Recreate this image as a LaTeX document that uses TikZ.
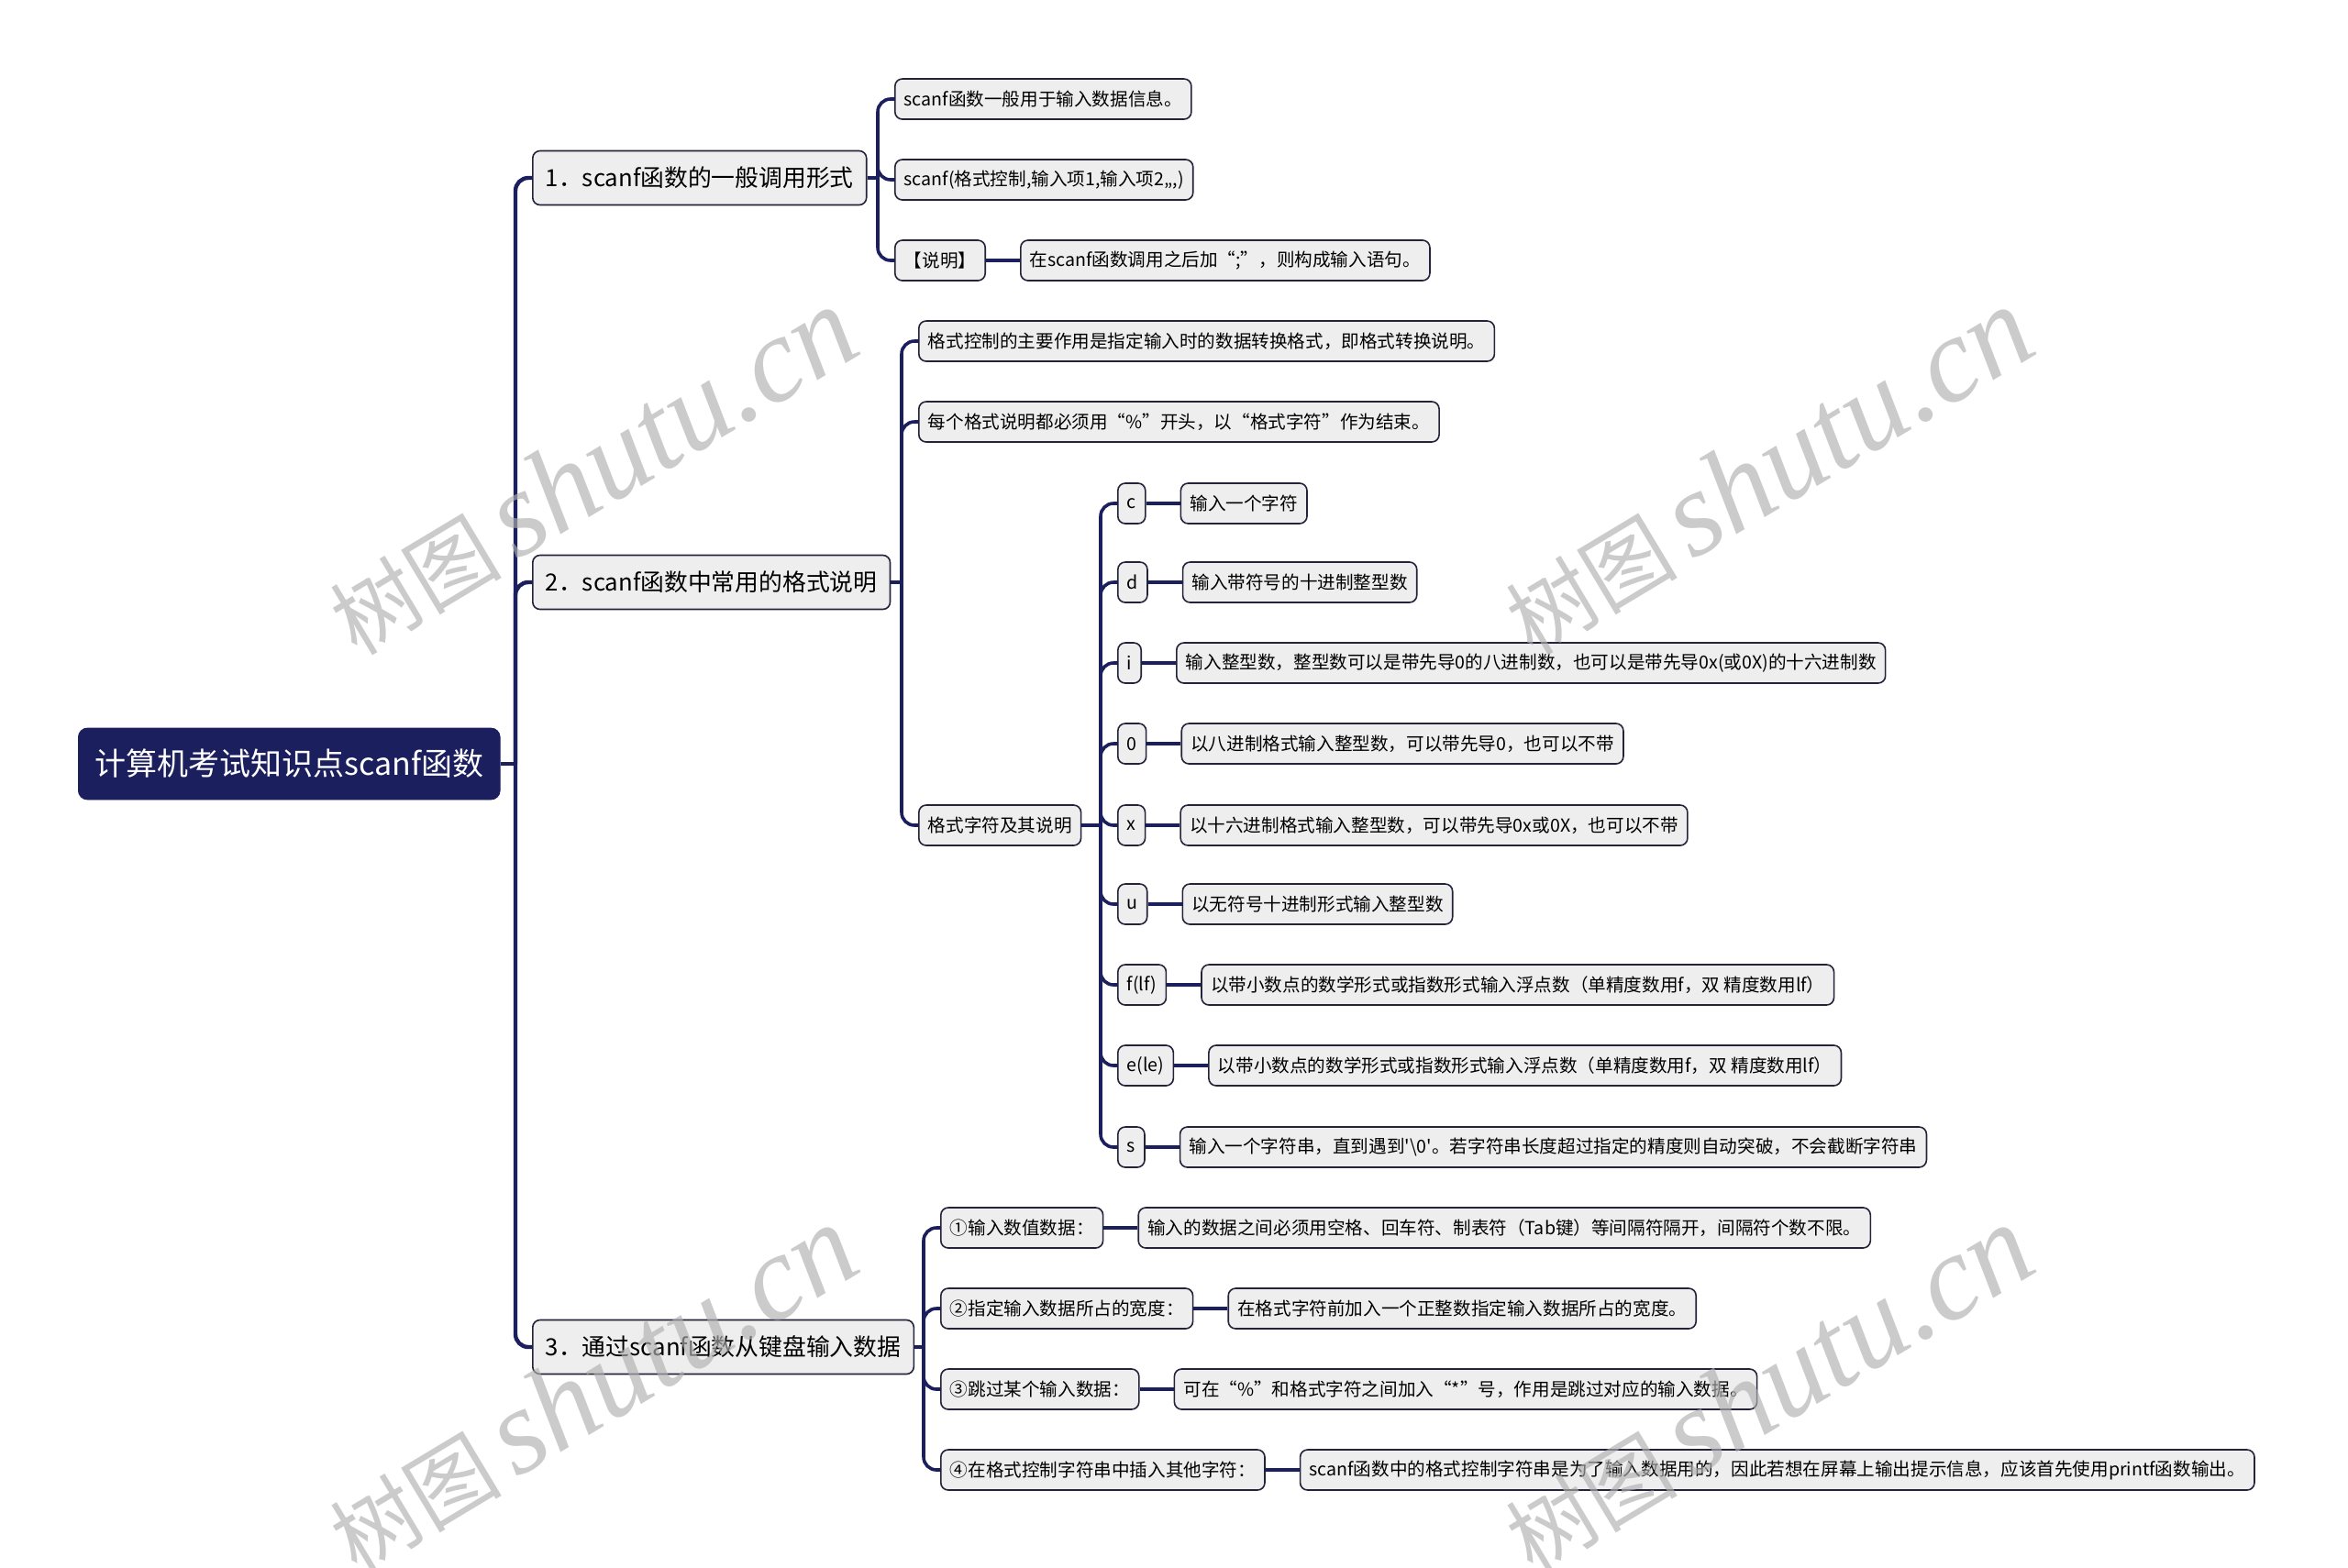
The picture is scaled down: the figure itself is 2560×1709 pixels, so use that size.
\documentclass[tikz,border=0pt]{standalone}
\usepackage{fontspec}
\setmainfont{Noto Sans CJK SC}
\newfontfamily\cjkplain{Noto Sans CJK SC}
\newfontfamily\wmserif{Liberation Serif}
\usetikzlibrary{positioning,calc}
\definecolor{navy}{HTML}{1B1F5E}
\definecolor{nodefill}{HTML}{EEEEEF}
\definecolor{nodeline}{HTML}{23233A}
\definecolor{wm}{HTML}{B0B0B0}
\begin{document}
\begin{tikzpicture}[x=0.5pt,y=-0.5pt,
  leaf/.style={draw=nodeline, line width=0.8pt, fill=nodefill, rounded corners=4pt,
    minimum height=22pt, inner xsep=5pt, inner ysep=0pt,
    font=\fontsize{9.8}{11}\selectfont, anchor=west},
  mid/.style={leaf, minimum height=29.5pt, inner xsep=7pt, font=\fontsize{12.9}{15}\selectfont},
  rootbox/.style={fill=navy, draw=navy, rounded corners=5pt, minimum height=39pt,
    inner xsep=9pt, inner ysep=0pt, text=white, font=\fontsize{17}{20}\selectfont, anchor=west},
  conn/.style={draw=navy, line width=1.8pt, rounded corners=7pt},
  trunk/.style={conn, line width=2.2pt},
  desc/.style={leaf, right=18.5pt of #1},
  wmark/.style={text=wm, opacity=0.65, rotate=31, inner sep=0pt}
]
\useasboundingbox (0,0) rectangle (2560,1709);
\fill[white] (0,0) rectangle (2560,1709);

% root and level 1
\node[rootbox] (root) at (85,833) {计算机考试知识点scanf函数};
\node[mid] (a1) at (580,194) {1．scanf函数的一般调用形式};
\node[mid] (a2) at (580,635) {2．scanf函数中常用的格式说明};
\node[mid] (a3) at (580,1469) {3．通过scanf函数从键盘输入数据};
\coordinate (jr) at (562,833);
\draw[trunk] (root.east) -- (jr);
\foreach \n in {a1,a2,a3} \draw[trunk] (jr) |- (\n.west);

% branch 1
\node[leaf] (b11) at (975,108) {scanf函数一般用于输入数据信息。};
\node[leaf] (b12) at (975,196) {scanf(格式控制,输入项1,输入项2,,,)};
\node[leaf] (b13) at (975,284) {【说明】};
\node[desc=b13] (b131) {在scanf函数调用之后加“;”，则构成输入语句。};
\coordinate (j1) at (957,194);
\draw[conn] (a1.east) -- (j1);
\foreach \n in {b11,b12,b13} \draw[conn] (j1) |- (\n.west);
\draw[conn] (b13.east) -- (b131.west);

% branch 2
\node[leaf] (b21) at (1001,372) {格式控制的主要作用是指定输入时的数据转换格式，即格式转换说明。};
\node[leaf] (b22) at (1001,460) {每个格式说明都必须用“\%”开头，以“格式字符”作为结束。};
\node[leaf] (b23) at (1001,900) {格式字符及其说明};
\coordinate (j2) at (983,635);
\draw[conn] (a2.east) -- (j2);
\foreach \n in {b21,b22,b23} \draw[conn] (j2) |- (\n.west);

% format characters
\node[leaf] (fc) at (1218,549) {c};
\node[leaf] (fd) at (1218,635) {d};
\node[leaf] (fi) at (1218,723) {i};
\node[leaf] (fo) at (1218,811) {0};
\node[leaf] (fx) at (1218,900) {x};
\node[leaf] (fu) at (1218,986) {u};
\node[leaf] (ff) at (1218,1074) {f(lf)};
\node[leaf] (fe) at (1218,1162) {e(le)};
\node[leaf] (fs) at (1218,1251) {s};
\node[desc=fc] (dc) {输入一个字符};
\node[desc=fd] (dd) {输入带符号的十进制整型数};
\node[desc=fi] (di) {输入整型数，整型数可以是带先导0的八进制数，也可以是带先导0x(或0X)的十六进制数};
\node[desc=fo] (do) {以八进制格式输入整型数，可以带先导0，也可以不带};
\node[desc=fx] (dx) {以十六进制格式输入整型数，可以带先导0x或0X，也可以不带};
\node[desc=fu] (du) {以无符号十进制形式输入整型数};
\node[desc=ff] (df) {以带小数点的数学形式或指数形式输入浮点数（单精度数用f，双 精度数用lf）};
\node[desc=fe] (de) {以带小数点的数学形式或指数形式输入浮点数（单精度数用f，双 精度数用lf）};
\node[desc=fs] (ds) {输入一个字符串，直到遇到{\cjkplain '\textbackslash 0'}。若字符串长度超过指定的精度则自动突破，不会截断字符串};
\coordinate (j3) at (1200,900);
\draw[conn] (b23.east) -- (j3);
\foreach \n/\m in {fc/dc,fd/dd,fi/di,fo/do,fx/dx,fu/du,ff/df,fe/de,fs/ds}{
  \draw[conn] (j3) |- (\n.west);
  \draw[conn] (\n.east) -- (\m.west);
}

% branch 3
\node[leaf] (b31) at (1025,1339) {①输入数值数据：};
\node[leaf] (b32) at (1025,1427) {②指定输入数据所占的宽度：};
\node[leaf] (b33) at (1025,1515) {③跳过某个输入数据：};
\node[leaf] (b34) at (1025,1603) {④在格式控制字符串中插入其他字符：};
\node[desc=b31] (c31) {输入的数据之间必须用空格、回车符、制表符（Tab键）等间隔符隔开，间隔符个数不限。};
\node[desc=b32] (c32) {在格式字符前加入一个正整数指定输入数据所占的宽度。};
\node[desc=b33] (c33) {可在“\%”和格式字符之间加入“*”号，作用是跳过对应的输入数据。};
\node[desc=b34] (c34) {scanf函数中的格式控制字符串是为了输入数据用的，因此若想在屏幕上输出提示信息，应该首先使用printf函数输出。};
\coordinate (j4) at (1007,1469);
\draw[conn] (a3.east) -- (j4);
\foreach \n/\m in {b31/c31,b32/c32,b33/c33,b34/c34}{
  \draw[conn] (j4) |- (\n.west);
  \draw[conn] (\n.east) -- (\m.west);
}

% watermarks
\foreach \p [count=\k] in {(645,514),(1927,514),(645,1515),(1927,1515)}
  \node[wmark] (wm\k) at \p {\fontsize{47}{50}\selectfont 树图\,{\wmserif\itshape\fontsize{66}{68}\selectfont shutu.cn}};
\end{tikzpicture}
\end{document}
